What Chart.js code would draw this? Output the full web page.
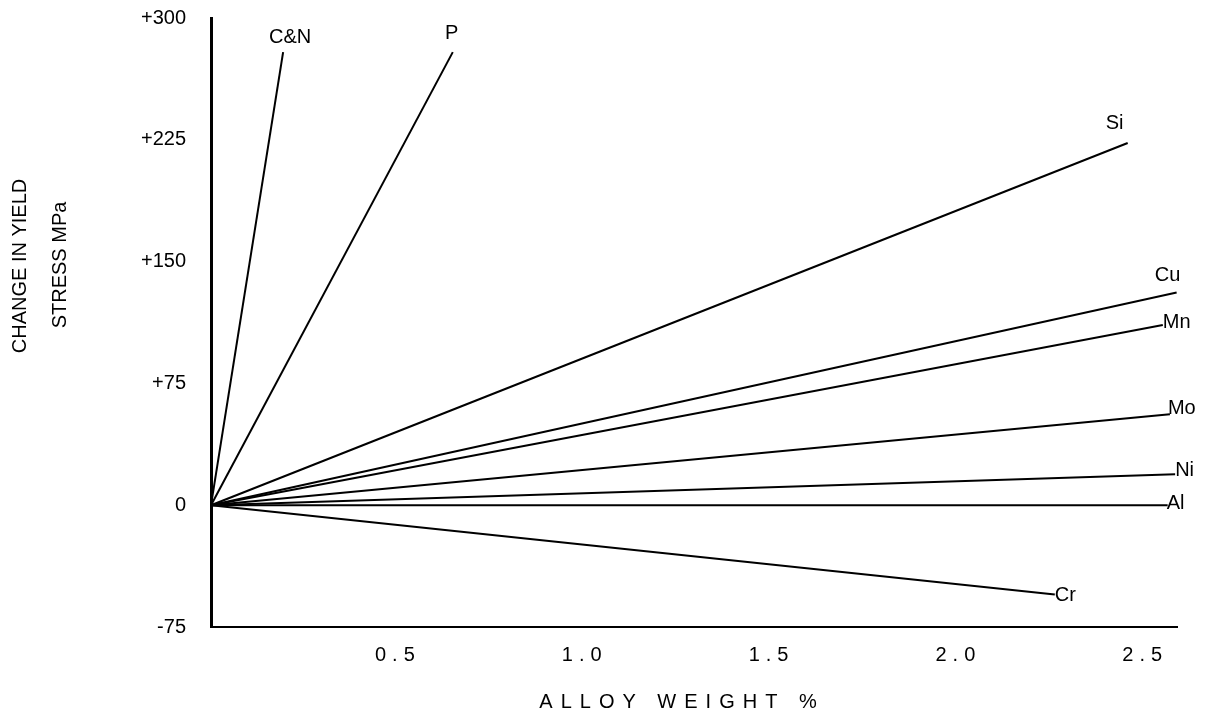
<!DOCTYPE html>
<html><head><meta charset="utf-8">
<script src="https://cdn.jsdelivr.net/npm/chart.js@4.4.0/dist/chart.umd.min.js"></script>
<style>html,body{margin:0;padding:0;background:#fff;} canvas{display:block;}</style>
</head><body>
<canvas id="c" width="1220" height="714"></canvas>
<script>
// ---- data ----
const elements   = ['C&N', 'P', 'Si', 'Cu', 'Mn', 'Mo', 'Ni', 'Al', 'Cr'];
const endWeight  = [0.193, 0.647, 2.453, 2.584, 2.547, 2.566, 2.58, 2.56, 2.258];
const endStress  = [279, 279, 223, 131, 111, 56, 19, 0, -55];
const yTickValues = [-75, 0, 75, 150, 225, 300];
const yTickLabels = ['-75', '0', '+75', '+150', '+225', '+300'];
const xTickValues = [0.5, 1.0, 1.5, 2.0, 2.5];
const xTickLabels = ['0.5', '1.0', '1.5', '2.0', '2.5'];
const xTitle = 'ALLOY WEIGHT %';
const yTitleLines = ['CHANGE IN YIELD', 'STRESS MPa'];

// ---- styling (label placement relative to line ends) ----
const labelStyle = {
  'C&N': {dx: 7, dy: -15, align: 'center'},
  'P':   {dx: -1, dy: -19, align: 'center'},
  'Si':  {dx: -13, dy: -20, align: 'center'},
  'Cu':  {dx: -9, dy: -17, align: 'center'},
  'Mn':  {dx: 0, dy: -2, align: 'left'},
  'Mo':  {dx: -2, dy: -6, align: 'left'},
  'Ni':  {dx: 0, dy: -4, align: 'left'},
  'Al':  {dx: -1, dy: -2, align: 'left'},
  'Cr':  {dx: 0, dy: 1, align: 'left'}
};
const FONT = '"Liberation Sans", Arial, sans-serif';

const datasets = elements.map((name, i) => ({
  label: name,
  data: [{x: 0, y: 0}, {x: endWeight[i], y: endStress[i]}],
  borderColor: '#000',
  borderWidth: 2,
  pointRadius: 0,
  showLine: true,
  fill: false,
  clip: false
}));

const overlay = {
  id: 'overlay',
  beforeDraw(chart) {
    const s = chart.scales.x;
    if (!s._spaced) {
      const orig = s.drawLabels.bind(s);
      s.drawLabels = function (area) {
        const c = this.ctx; c.save(); c.letterSpacing = '6px'; orig(area); c.restore();
      };
      s._spaced = true;
    }
  },
  afterDraw(chart) {
    const ctx = chart.ctx;
    const xs = chart.scales.x, ys = chart.scales.y;
    ctx.save();
    ctx.fillStyle = '#000';
    ctx.font = '20px ' + FONT;
    ctx.textBaseline = 'middle';
    elements.forEach((name, i) => {
      const st = labelStyle[name];
      const px = xs.getPixelForValue(endWeight[i]);
      const py = ys.getPixelForValue(endStress[i]);
      ctx.textAlign = st.align;
      ctx.fillText(name, px + st.dx, py + st.dy);
    });
    // x title
    ctx.save();
    ctx.letterSpacing = '8px';
    ctx.textAlign = 'center';
    ctx.fillText(xTitle, 682, 702);
    ctx.restore();
    // y title (rotated, two lines)
    ctx.save();
    ctx.translate(20, 266);
    ctx.rotate(-Math.PI / 2);
    ctx.textAlign = 'center';
    ctx.fillText(yTitleLines[0], 0, 0);
    ctx.restore();
    ctx.save();
    ctx.translate(60, 265);
    ctx.rotate(-Math.PI / 2);
    ctx.textAlign = 'center';
    ctx.fillText(yTitleLines[1], 0, 0);
    ctx.restore();
    ctx.restore();
  }
};

new Chart(document.getElementById('c'), {
  type: 'scatter',
  data: {datasets},
  options: {
    responsive: false,
    animation: false,
    events: [],
    layout: {padding: {top: 18, left: 0, right: 43, bottom: 0}},
    plugins: {legend: {display: false}, tooltip: {enabled: false}},
    scales: {
      x: {
        type: 'linear',
        min: 0, max: 2.585,
        afterBuildTicks: (sc) => { sc.ticks = xTickValues.map(v => ({value: v})); },
        afterFit: (sc) => { sc.height = 87; sc.paddingLeft = 0; sc.paddingRight = 0; },
        grid: {display: false, drawTicks: false},
        border: {display: true, color: '#000', width: 2},
        ticks: {
          color: '#000', padding: 16, maxRotation: 0, autoSkip: false,
          font: {family: FONT, size: 20},
          callback: (v) => { const k = xTickValues.indexOf(v); return k >= 0 ? xTickLabels[k] : ''; }
        }
      },
      y: {
        type: 'linear',
        min: -75, max: 300,
        afterBuildTicks: (sc) => { sc.ticks = yTickValues.map(v => ({value: v})); },
        afterFit: (sc) => { sc.width = 211; sc.paddingTop = 0; sc.paddingBottom = 0; },
        grid: {display: false, drawTicks: false},
        border: {display: true, color: '#000', width: 3},
        ticks: {
          color: '#000', padding: 25, autoSkip: false,
          font: {family: FONT, size: 20},
          callback: (v) => { const k = yTickValues.indexOf(v); return k >= 0 ? yTickLabels[k] : ''; }
        }
      }
    }
  },
  plugins: [overlay]
});
</script>
</body></html>
